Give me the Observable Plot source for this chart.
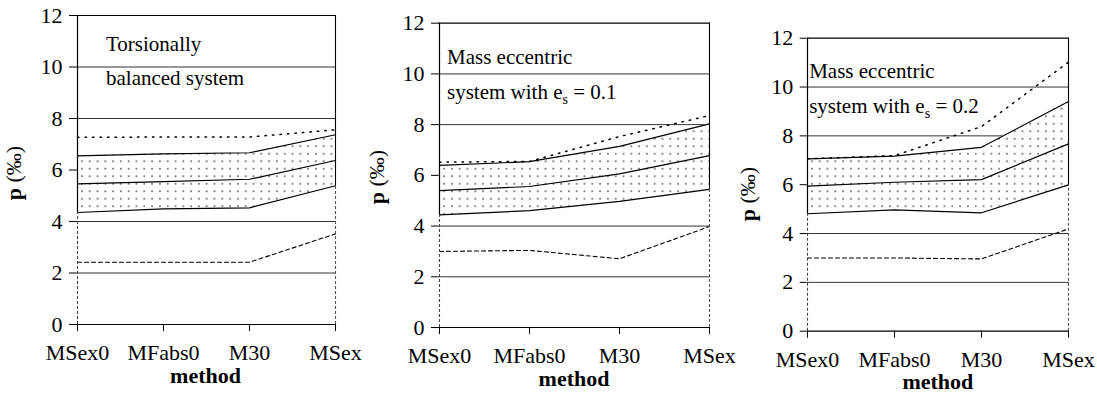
<!DOCTYPE html>
<html><head><meta charset="utf-8">
<script src="https://cdn.jsdelivr.net/npm/d3@7"></script>
<script src="https://cdn.jsdelivr.net/npm/@observablehq/plot@0.6"></script>
<style>
body{margin:0;background:#fff;font-family:"Liberation Serif",serif;color:#000;}
#wrap{position:relative;display:flex;flex-direction:row;width:1097px;height:395px;}
#wrap svg{flex:none;overflow:visible;}
#wrap svg text{font-family:"Liberation Serif" !important;}
.lbl{position:absolute;white-space:nowrap;font-family:"Liberation Serif",serif;color:#000;}
</style></head><body><div id="wrap"></div>
<script>
// ---- data ----
const methods = ["MSex0", "MFabs0", "M30", "MSex"];
const yTicks = [0, 2, 4, 6, 8, 10, 12];
const yGrid = [2, 4, 6, 8, 10];

// Panel 1: torsionally balanced system
const p1Max   = [7.27, 7.28, 7.28, 7.56];
const p1Upper = [6.55, 6.63, 6.67, 7.37];
const p1Mean  = [5.46, 5.55, 5.64, 6.37];
const p1Lower = [4.35, 4.49, 4.53, 5.39];
const p1Min   = [2.42, 2.42, 2.42, 3.52];

// Panel 2: mass eccentric system, e_s = 0.1
const p2Max   = [6.52, 6.55, 7.53, 8.36];
const p2Upper = [6.39, 6.54, 7.14, 8.03];
const p2Mean  = [5.40, 5.56, 6.06, 6.78];
const p2Lower = [4.44, 4.61, 4.97, 5.45];
const p2Min   = [3.00, 3.04, 2.71, 3.98];

// Panel 3: mass eccentric system, e_s = 0.2
const p3Max   = [7.06, 7.19, 8.38, 11.02];
const p3Upper = [7.06, 7.17, 7.53, 9.41];
const p3Mean  = [5.94, 6.10, 6.21, 7.67];
const p3Lower = [4.81, 4.97, 4.85, 5.99];
const p3Min   = [3.00, 3.00, 2.96, 4.19];

const p1Label = [["Torsionally"], ["balanced system"]];
const p2Label = [["Mass eccentric"], ["system with e", "s", " = 0.1"]];
const p3Label = [["Mass eccentric"], ["system with e", "s", " = 0.2"]];
const xTitle = "method";
const yTitleMain = "p";
const yTitleUnit = " (\u2030)";

// ---- layout ----
const layouts = [
  {id: 1, left: 0,   width: 370, ml: 76,   mr: 35, mt: 15,   mb: 71,   tx: 30,  ty: [52, 86],  ylx: 21,   yly: 173},
  {id: 2, left: 370, width: 360, ml: 68,   mr: 20, mt: 22.7, mb: 68,   tx: 9,   ty: [65, 100], ylx: 13.5, yly: 177},
  {id: 3, left: 730, width: 367, ml: 76.7, mr: 28, mt: 37.7, mb: 64.3, tx: 2.5, ty: [79, 114], ylx: 25,   yly: 194}
];
const series = [
  {max: p1Max, up: p1Upper, mid: p1Mean, lo: p1Lower, min: p1Min, label: p1Label},
  {max: p2Max, up: p2Upper, mid: p2Mean, lo: p2Lower, min: p2Min, label: p2Label},
  {max: p3Max, up: p3Upper, mid: p3Mean, lo: p3Lower, min: p3Min, label: p3Label}
];

const FONT = "Liberation Serif";
const wrap = document.getElementById("wrap");
const H = 395;

// place an HTML text whose baseline sits at (x, baseline)
function place(fs, left, baseline, extra) {
  const el = document.createElement("div");
  el.className = "lbl";
  el.style.fontSize = fs + "px";
  el.style.lineHeight = fs + "px";
  el.style.left = left + "px";
  el.style.top = (baseline - 0.8375 * fs) + "px";
  if (extra) Object.assign(el.style, extra);
  wrap.appendChild(el);
  return el;
}

layouts.forEach((L, k) => {
  const S = series[k];
  const data = methods.map((m, i) => ({m, max: S.max[i], up: S.up[i], mid: S.mid[i], lo: S.lo[i], min: S.min[i]}));
  const first = data[0], last = data[data.length - 1];
  const pid = "dots" + L.id;

  const svg = Plot.plot({
    width: L.width, height: H,
    marginLeft: L.ml, marginRight: L.mr, marginTop: L.mt, marginBottom: L.mb,
    style: {fontFamily: FONT, fontSize: "22px"},
    x: {type: "point", domain: methods, padding: 0, label: null},
    y: {domain: [0, 12], label: null},
    marks: [
      () => {
        const defs = d3.create("svg:defs");
        const p = defs.append("pattern").attr("id", pid).attr("patternUnits", "userSpaceOnUse")
          .attr("width", 7.8).attr("height", 7.5);
        p.append("rect").attr("width", 7.8).attr("height", 7.5).attr("fill", "#fff");
        p.append("circle").attr("cx", 3.9).attr("cy", 3.75).attr("r", 0.9).attr("fill", "#555");
        return defs.node();
      },
      Plot.ruleY(yGrid, {stroke: "#333", strokeWidth: 1}),
      Plot.areaY(data, {x: "m", y1: "lo", y2: "up", fill: "white"}),
      Plot.line(data, {x: "m", y: "min", stroke: "#000", strokeWidth: 1.1, strokeDasharray: "4,3"}),
      Plot.line(data, {x: "m", y: "max", stroke: "#000", strokeWidth: 1.5, strokeDasharray: "1.5,6"}),
      Plot.line(data, {x: "m", y: "lo", stroke: "#000", strokeWidth: 1.2}),
      Plot.line(data, {x: "m", y: "mid", stroke: "#000", strokeWidth: 1.2}),
      Plot.line(data, {x: "m", y: "up", stroke: "#000", strokeWidth: 1.2}),
      Plot.ruleY([0, 12], {stroke: "#000", strokeWidth: 1.2}),
      Plot.ruleX([first], {x: "m", y1: "lo", y2: 12, stroke: "#000", strokeWidth: 1.2}),
      Plot.ruleX([first], {x: "m", y1: 0, y2: "lo", stroke: "#444", strokeWidth: 1.1, strokeDasharray: "3,2"}),
      Plot.ruleX([last], {x: "m", y1: "lo", y2: 12, stroke: "#000", strokeWidth: 1.1}),
      Plot.ruleX([last], {x: "m", y1: 0, y2: "lo", stroke: "#555", strokeWidth: 1.1, strokeDasharray: "3,2"}),
      Plot.axisX({tickSize: 7, tickPadding: 13, stroke: "#000", fill: "#000"}),
      Plot.axisY({ticks: yTicks, tickSize: 7, tickPadding: 7, stroke: "#000", fill: "#000"})
    ]
  });

  const sel = d3.select(svg);
  sel.attr("font-family", FONT);
  sel.selectAll('g[aria-label="area"] path').attr("fill", `url(#${pid})`);
  wrap.appendChild(svg);

  // x title (HTML), centred under the frame
  const frameCx = L.left + L.ml + (L.width - L.ml - L.mr) / 2;
  const xt = place(22, frameCx, H - L.mb + 59, {transform: "translateX(-50%)", fontWeight: "bold"});
  xt.textContent = xTitle;

  // y title (HTML, rotated)
  const yt = place(22, L.left + L.ylx, L.yly, {
    top: L.yly + "px", transformOrigin: "0 0",
    transform: `rotate(-90deg) translate(-50%, ${-0.8375 * 22}px)`
  });
  const b = document.createElement("b"); b.textContent = yTitleMain; yt.appendChild(b);
  yt.appendChild(document.createTextNode(yTitleUnit));

  // annotation (HTML)
  S.label.forEach((parts, j) => {
    const el = place(21, L.left + L.ml + L.tx, L.ty[j]);
    parts.forEach((s, q) => {
      if (parts.length === 3 && q === 1) {
        const sub = document.createElement("span");
        sub.style.fontSize = "14px"; sub.style.position = "relative"; sub.style.top = "5px";
        sub.textContent = s; el.appendChild(sub);
      } else {
        el.appendChild(document.createTextNode(s));
      }
    });
  });
});
</script>
</body></html>
